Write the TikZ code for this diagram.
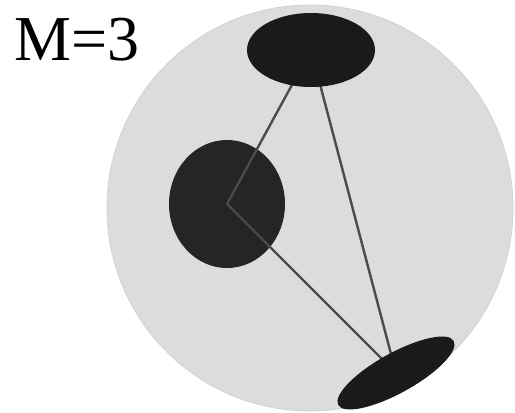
\documentclass[tikz,border=0pt]{standalone}
\usepackage{fontspec}
\setmainfont{Liberation Serif}
\newfontfamily\labelfont{Liberation Serif}
\usepackage{tikz}
\usetikzlibrary{shapes.geometric}
\definecolor{spheregray}{RGB}{220, 220, 220}
\definecolor{rimgray}{RGB}{210, 210, 210}
\definecolor{blobdark}{RGB}{26, 26, 26}
\definecolor{blobmid}{RGB}{37, 37, 37}
\definecolor{linkgray}{RGB}{75, 75, 75}
\pgfdeclarelayer{front}
\pgfsetlayers{main,front}

\begin{document}
\begin{tikzpicture}[
    x=1pt, y=-1pt,
    blob/.style={ellipse, inner sep=0pt, draw=none},
    link/.style={draw=linkgray, line width=2.4pt}
]
    \useasboundingbox (0, 0) rectangle (515, 413);

    % Sphere
    \node[circle, inner sep=0pt, minimum size=406pt, fill=spheregray, draw=rimgray, line width=0.8pt] (sphere) at (310, 208) {};

    % Middle blob
    \node[blob, fill=blobmid, minimum width=116pt, minimum height=128pt] (mid) at (227, 204) {};

    % Top and bottom blobs in front of the links
    \begin{pgfonlayer}{front}
        \node[blob, fill=blobdark, minimum width=128pt, minimum height=74pt] (top) at (311, 50) {};
        \node[blob, fill=blobdark, minimum width=132pt, minimum height=40pt, rotate=29] (bottom) at (396, 373) {};
    \end{pgfonlayer}

    % Links
    \draw[link] (top.center) -- (mid.center);
    \draw[link] (mid.center) -- (bottom.center);
    \draw[link] (top.center) -- (bottom.center);

    % Label
    \node[anchor=base west, inner sep=0pt, font=\labelfont\fontsize{64}{70}\selectfont] (label) at (14, 60) {M=3};
\end{tikzpicture}
\end{document}
